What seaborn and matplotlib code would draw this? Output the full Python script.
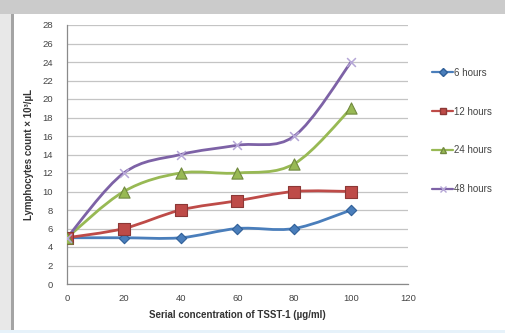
import numpy as np
import pandas as pd
import matplotlib
matplotlib.use("Agg")
import matplotlib.pyplot as plt
from matplotlib.path import Path
from matplotlib.patches import PathPatch, Rectangle
from matplotlib.lines import Line2D
import seaborn as sns

# Data
concentration = [0, 20, 40, 60, 80, 100]
hours_6 = [5, 5, 5, 6, 6, 8]
hours_12 = [5, 6, 8, 9, 10, 10]
hours_24 = [5, 10, 12, 12, 13, 19]
hours_48 = [5, 12, 14, 15, 16, 24]
series_names = ["6 hours", "12 hours", "24 hours", "48 hours"]
x_ticks = [0, 20, 40, 60, 80, 100, 120]
y_ticks = list(range(0, 29, 2))

sns.set_theme(style="white")
plt.rcParams["font.family"] = ["Liberation Sans", "DejaVu Sans"]

df = pd.DataFrame({
    "conc": concentration * 4,
    "count": hours_6 + hours_12 + hours_24 + hours_48,
    "series": sum([[n] * len(concentration) for n in series_names], []),
})

colors = {"6 hours": "#4A7EBB", "12 hours": "#BE4B48", "24 hours": "#98B954", "48 hours": "#7D62A6"}
markers = {"6 hours": "D", "12 hours": "s", "24 hours": "^", "48 hours": "x"}
edge = {"6 hours": "#2F5F98", "12 hours": "#8C3836", "24 hours": "#71893F", "48 hours": "#B5A6D6"}
msize = {"6 hours": 28, "12 hours": 80, "24 hours": 65, "48 hours": 40}

fig = plt.figure(figsize=(5.06, 3.33), dpi=100)
fig.patch.set_facecolor("white")
# window frame
fig.patches.append(Rectangle((0, 1 - 14 / 333), 1, 14 / 333, transform=fig.transFigure,
                             facecolor="#cbcbcb", edgecolor="none", zorder=0))
fig.patches.append(Rectangle((0, 0), 11 / 506, 1 - 14 / 333, transform=fig.transFigure,
                             facecolor="#e8e8e8", edgecolor="none", zorder=0))
fig.patches.append(Rectangle((11 / 506, 0), 3 / 506, 1 - 14 / 333, transform=fig.transFigure,
                             facecolor="#a4a4a4", edgecolor="none", zorder=0))
fig.patches.append(Rectangle((0, 0), 1, 3 / 333, transform=fig.transFigure,
                             facecolor="#e6f2fa", edgecolor="none", zorder=0))

ax = fig.add_axes([67 / 506, 1 - 284 / 333, (408 - 67) / 506, (284 - 25) / 333])
ax.set_facecolor("white")


def smooth_path(xs, ys):
    """Catmull-Rom style cubic Bezier through the data points."""
    pts = np.column_stack([xs, ys]).astype(float)
    n = len(pts)
    verts = [pts[0]]
    codes = [Path.MOVETO]
    for i in range(n - 1):
        p0 = pts[i - 1] if i > 0 else pts[i]
        p1 = pts[i]
        p2 = pts[i + 1]
        p3 = pts[i + 2] if i + 2 < n else pts[i + 1]
        c1 = p1 + (p2 - p0) / 6.0
        c2 = p2 - (p3 - p1) / 6.0
        verts += [c1, c2, p2]
        codes += [Path.CURVE4] * 3
    return Path(verts, codes)


for name in series_names:
    sub = df[df["series"] == name]
    patch = PathPatch(smooth_path(sub["conc"], sub["count"]), facecolor="none",
                      edgecolor=colors[name], lw=2.0, zorder=2, transform=ax.transData)
    ax.add_patch(patch)
    if markers[name] == "x":
        sns.scatterplot(data=sub, x="conc", y="count", ax=ax, color=edge[name],
                        marker="x", s=msize[name], linewidth=1.1, zorder=3, legend=False)
    else:
        sns.scatterplot(data=sub, x="conc", y="count", ax=ax, color=colors[name],
                        marker=markers[name], s=msize[name], edgecolor=edge[name],
                        linewidth=0.8, zorder=3, legend=False)

ax.set_xlim(0, 120)
ax.set_ylim(0, 28)
ax.set_xticks(x_ticks)
ax.set_yticks(y_ticks)
ax.yaxis.grid(True, color="#c4c4c4", lw=0.9)
ax.xaxis.grid(False)
for s in ["top", "right"]:
    ax.spines[s].set_visible(False)
for s in ["left", "bottom"]:
    ax.spines[s].set_color("#8a8a8a")
    ax.spines[s].set_linewidth(0.9)
ax.tick_params(axis="both", labelsize=6.8, colors="#8a8a8a", labelcolor="#444444",
               length=3, width=0.8, direction="out")
ax.tick_params(axis="x", pad=4)
ax.tick_params(axis="y", pad=7)
ax.set_xlabel("Serial concentration of TSST-1 (µg/ml)", fontsize=7, fontweight="bold",
              color="#333333", labelpad=5)
ax.set_ylabel("Lymphocytes count × 10³/µL", fontsize=7, fontweight="bold",
              color="#333333", labelpad=6)

handles = []
for n in series_names:
    if markers[n] == "x":
        handles.append(Line2D([0], [0], color=colors[n], lw=1.6, marker="x",
                              markersize=4, markeredgecolor=edge[n]))
    else:
        handles.append(Line2D([0], [0], color=colors[n], lw=1.6, marker=markers[n],
                              markersize=4.5, markerfacecolor=colors[n],
                              markeredgecolor=edge[n]))
leg = fig.legend(handles, series_names, loc="upper left",
                 bbox_to_anchor=(428 / 506, 1 - 64 / 333), frameon=False,
                 fontsize=7, labelspacing=2.95, handlelength=2.2, handletextpad=0.1,
                 borderaxespad=0)
for t in leg.get_texts():
    t.set_color("#444444")

fig.savefig("out.png", dpi=100)
